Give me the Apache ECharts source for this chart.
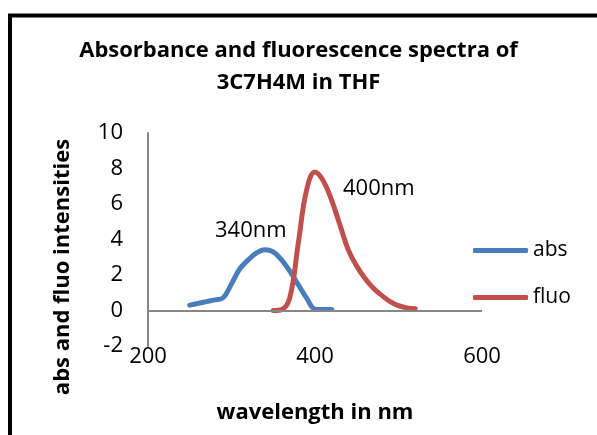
<!DOCTYPE html>
<html>
<head>
    <meta charset="utf-8">
    <title>Absorbance and fluorescence spectra</title>
    <script src="https://cdn.jsdelivr.net/npm/echarts@6/dist/echarts.min.js"></script>
    <style>
        *{ padding: 0; margin: 0; }
        html, body{ width: 100%; height: 100%; background: #fff; }
        #chart{ width: 597px; height: 435px; }
    </style>
</head>
<body>
    <div id="chart"></div>
</body>
<script>
    // data
    var absWavelength = [250, 260, 270, 280, 290, 300, 310, 320, 330, 340, 350, 360, 370, 380, 390, 400, 410, 420];
    var absValues     = [0.3, 0.4, 0.5, 0.6, 0.72, 1.5, 2.35, 2.85, 3.25, 3.42, 3.3, 2.85, 2.2, 1.45, 0.7, 0.08, 0.05, 0.05];
    var fluoWavelength = [350, 360, 370, 380, 390, 400, 410, 420, 430, 440, 450, 460, 470, 480, 490, 500, 510, 520];
    var fluoValues     = [0, 0.05, 0.75, 3.8, 6.8, 7.8, 7.3, 6.2, 4.8, 3.4, 2.5, 1.8, 1.25, 0.85, 0.5, 0.27, 0.15, 0.1];
    var seriesNames = ['abs', 'fluo'];
    var peakLabels = ['340nm', '400nm'];

    function pairs(xs, ys){
        var out = [];
        for(var i = 0; i < xs.length; i++) out.push([xs[i], ys[i]]);
        return out;
    }

    var font = '"Open Sans", sans-serif';
    var axisGrey = '#868686';
    var myChart = echarts.init(document.getElementById('chart'));

    myChart.setOption({
        animation: false,
        title: {
            text: 'Absorbance and fluorescence spectra of\n3C7H4M in THF',
            left: 'center',
            top: 30,
            textStyle: { fontFamily: font, fontWeight: 'bold', fontSize: 22, lineHeight: 32, color: '#000' }
        },
        grid: { left: 148, right: 115, top: 133, bottom: 89 },
        legend: {
            orient: 'vertical',
            left: 473,
            top: 240,
            padding: 0,
            itemWidth: 55,
            itemHeight: 5,
            itemGap: 26,
            icon: 'roundRect',
            textStyle: { fontFamily: font, fontSize: 21, color: '#000' },
            data: seriesNames
        },
        xAxis: {
            type: 'value',
            min: 200, max: 600, interval: 200,
            axisLine: { show: false },
            axisTick: { show: false },
            splitLine: { show: false },
            axisLabel: { fontFamily: font, fontSize: 22, color: '#000', margin: 0 }
        },
        yAxis: {
            type: 'value',
            min: -2, max: 10, interval: 2,
            axisLine: { show: true, lineStyle: { color: axisGrey, width: 2 } },
            axisTick: { show: false },
            splitLine: { show: false },
            axisLabel: { fontFamily: font, fontSize: 22, color: '#000', margin: 25, padding: [5, 0, 0, 0] }
        },
        series: [
            {
                name: seriesNames[0],
                type: 'line',
                smooth: 0.4,
                showSymbol: false,
                data: pairs(absWavelength, absValues),
                lineStyle: { width: 5, color: '#4A7EBB', cap: 'round' },
                itemStyle: { color: '#4A7EBB' },
                markLine: {
                    silent: true,
                    symbol: 'none',
                    label: { show: false },
                    lineStyle: { color: axisGrey, width: 2, type: 'solid' },
                    data: [{ yAxis: 0 }]
                },
                z: 3
            },
            {
                name: seriesNames[1],
                type: 'line',
                smooth: 0.4,
                showSymbol: false,
                data: pairs(fluoWavelength, fluoValues),
                lineStyle: { width: 5, color: '#C0504D', cap: 'round' },
                itemStyle: { color: '#C0504D' },
                z: 4
            }
        ],
        graphic: [
            {
                type: 'polyline',
                shape: { points: [[10, 435], [10, 15.5], [597, 15.5]] },
                style: { stroke: '#000', lineWidth: 4, fill: null }
            },
            {
                type: 'text', left: 215, top: 220,
                style: { text: peakLabels[0], font: '22px "Open Sans"', fill: '#000' }
            },
            {
                type: 'text', left: 343, top: 178,
                style: { text: peakLabels[1], font: '22px "Open Sans"', fill: '#000' }
            },
            {
                type: 'text', x: 63, y: 267, rotation: Math.PI / 2,
                style: { text: 'abs and fluo intensities', font: 'bold 22px "Open Sans"', fill: '#000', align: 'center', verticalAlign: 'middle' }
            },
            {
                type: 'text', x: 315, y: 413,
                style: { text: 'wavelength in nm', font: 'bold 22px "Open Sans"', fill: '#000', align: 'center', verticalAlign: 'middle' }
            }
        ]
    });
</script>
</html>
